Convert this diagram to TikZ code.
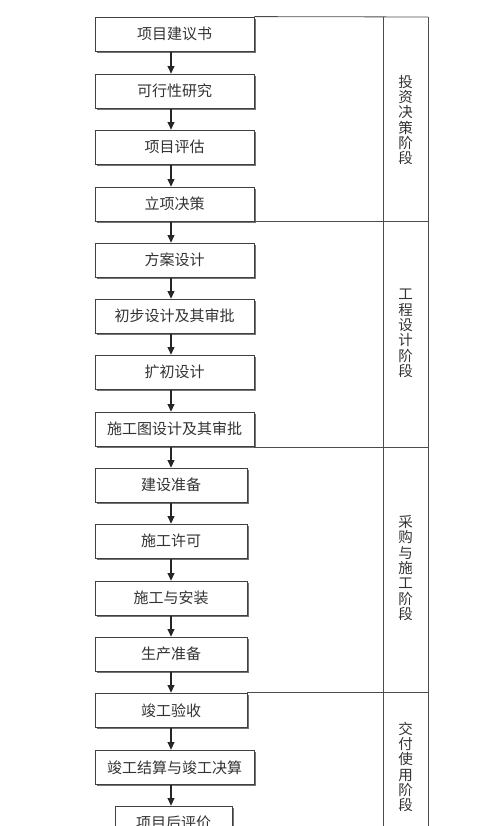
\documentclass[tikz,border=0pt]{standalone}
\usepackage{fontspec}
\newfontfamily\cjk{Noto Sans CJK SC}
\usetikzlibrary{arrows.meta,shadows}
\begin{document}
\begin{tikzpicture}[x=1pt,y=-1pt]
\tikzset{
	box/.style={rectangle, draw=black!75, fill=white, line width=0.8pt, minimum width=159pt, minimum height=34.5pt, inner sep=0pt, text=black!80, font=\cjk\fontsize{15}{15}\selectfont, drop shadow={shadow xshift=1.6pt, shadow yshift=-1.6pt, fill=black!55, opacity=1}},
	nbox/.style={box, minimum width=152pt},
	stage/.style={align=center, inner sep=0pt, text=black!80, font=\cjk\fontsize{14.5}{15.3}\selectfont},
	arr/.style={-{Triangle[length=7.5pt,width=7pt]}, line width=1.2pt, draw=black!85},
	frame/.style={draw=black!70, line width=0.8pt}
}
\useasboundingbox (0,0) rectangle (500,826);

% 流程方框
\node[box]  (b1)  at (174.5,34.25)  {项目建议书};
\node[box]  (b2)  at (174.5,91.25)  {可行性研究};
\node[box]  (b3)  at (174.5,147.25) {项目评估};
\node[box]  (b4)  at (174.5,204.25) {立项决策};
\node[box]  (b5)  at (174.5,260.25) {方案设计};
\node[box]  (b6)  at (174.5,316.25) {初步设计及其审批};
\node[box]  (b7)  at (174.5,372.25) {扩初设计};
\node[box]  (b8)  at (174.5,429.25) {施工图设计及其审批};
\node[nbox] (b9)  at (171,485.25)   {建设准备};
\node[nbox] (b10) at (171,541.25)   {施工许可};
\node[nbox] (b11) at (171,598.25)   {施工与安装};
\node[nbox] (b12) at (171,654.25)   {生产准备};
\node[nbox] (b13) at (171,710.25)   {竣工验收};
\node[box]  (b14) at (174.5,767.25) {竣工结算与竣工决算};
\node[box, minimum width=117pt] (b15) at (173.5,823.25) {项目后评价};

% 箭头
\coordinate (ax) at (171,0);
\foreach \i/\j in {1/2,2/3,3/4,4/5,5/6,6/7,7/8,8/9,9/10,10/11,11/12,12/13,13/14,14/15}
	\draw[arr] (b\i.south -| ax) -- (b\j.north -| ax);

% 右侧阶段框
\coordinate (mt) at (383,17);
\coordinate (mb) at (383,826);
\coordinate (rt) at (428,17);
\coordinate (rb) at (428,826);
\draw[frame] (b1.north east) -- (rt);
\draw[frame] (mt) -- (mb);
\draw[frame] (rt) -- (rb);
\draw[frame] (b4.south east) -- (b4.south east -| rt);
\draw[frame] (b8.south east) -- (b8.south east -| rt);
\draw[frame] (b13.north east) -- (b13.north east -| rt);

% 阶段名称
\node[stage] (s1) at (405.5,120) {投\\资\\决\\策\\阶\\段};
\node[stage] (s2) at (405.5,333.5) {工\\程\\设\\计\\阶\\段};
\node[stage] (s3) at (405.5,568) {采\\购\\与\\施\\工\\阶\\段};
\node[stage] (s4) at (405.5,767) {交\\付\\使\\用\\阶\\段};

\end{tikzpicture}
\end{document}
